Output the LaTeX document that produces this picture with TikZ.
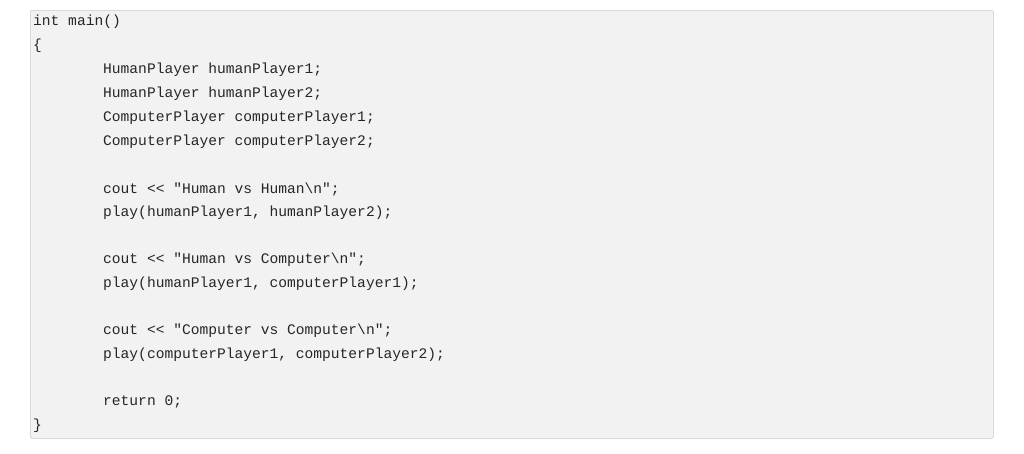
\documentclass[tikz,border=0pt]{standalone}
\usepackage{fontspec}
\setmonofont{Liberation Mono}
\begin{document}
\begin{tikzpicture}[x=1pt,y=-1pt,
  code/.style={anchor=west,inner sep=0pt,font=\ttfamily\fontsize{14.6}{16}\selectfont,text=black!85}]
\useasboundingbox (0,0) rectangle (1024,453);
\fill[white] (0,0) rectangle (1024,453);
\node[draw=black!15,fill=black!5,line width=0.8pt,rounded corners=1.5pt,minimum width=963pt,minimum height=428pt,anchor=north west] (box) at (30,10) {};
\node[code] (l1) at (33,22) {int main()};
\node[code] (l2) at (33,46) {\{};
\node[code] (l3) at (103,70) {HumanPlayer humanPlayer1;};
\node[code] (l4) at (103,94) {HumanPlayer humanPlayer2;};
\node[code] (l5) at (103,118) {ComputerPlayer computerPlayer1;};
\node[code] (l6) at (103,142) {ComputerPlayer computerPlayer2;};
\node[code] (l7) at (103,189) {cout << "Human vs Human\textbackslash n";};
\node[code] (l8) at (103,213) {play(humanPlayer1, humanPlayer2);};
\node[code] (l9) at (103,260) {cout << "Human vs Computer\textbackslash n";};
\node[code] (l10) at (103,284) {play(humanPlayer1, computerPlayer1);};
\node[code] (l11) at (103,331) {cout << "Computer vs Computer\textbackslash n";};
\node[code] (l12) at (103,355) {play(computerPlayer1, computerPlayer2);};
\node[code] (l13) at (103,402) {return 0;};
\node[code] (l14) at (33,426) {\}};
\end{tikzpicture}
\end{document}
